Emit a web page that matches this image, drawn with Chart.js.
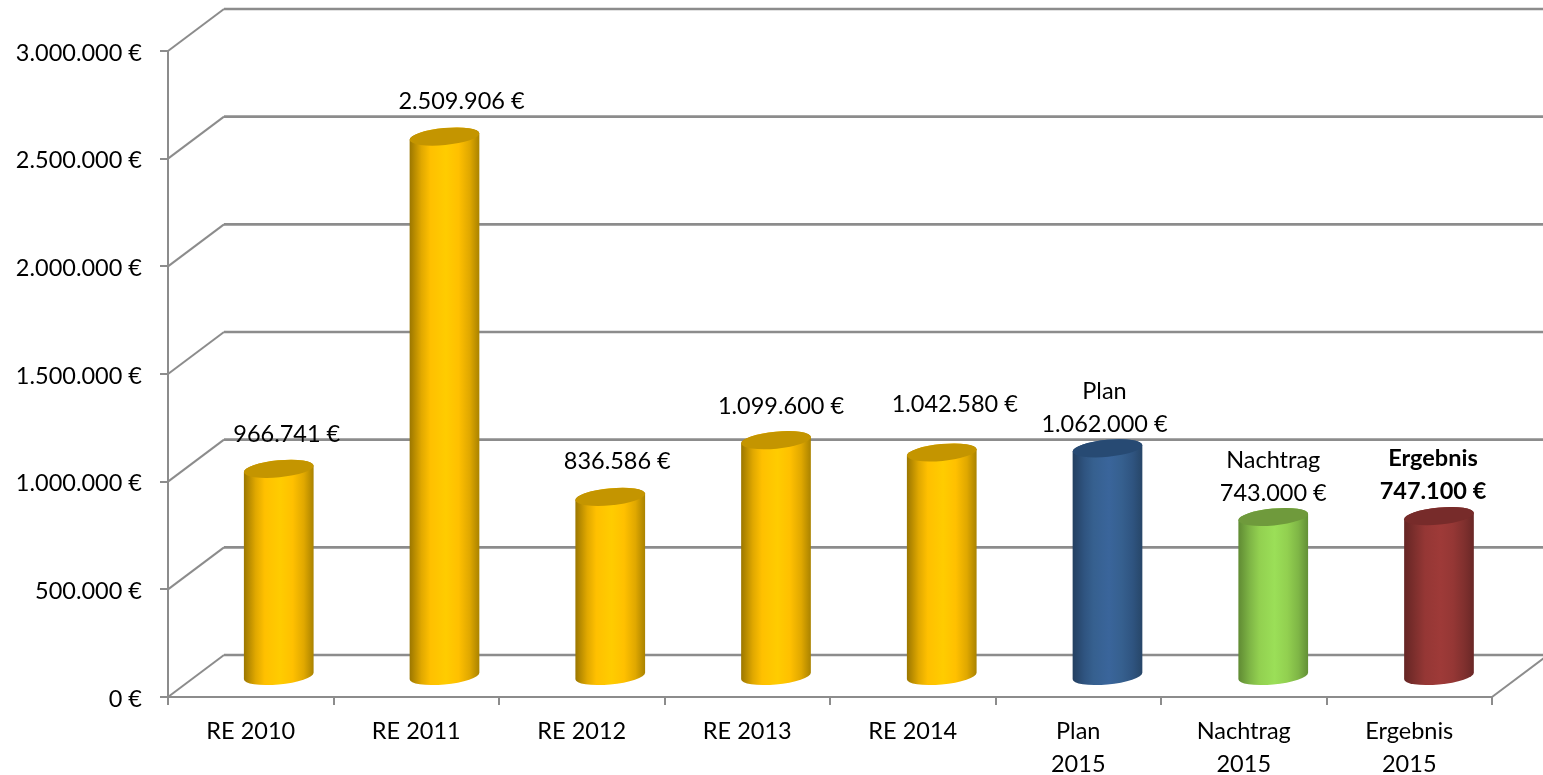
<!DOCTYPE html>
<html>
<head>
<meta charset="utf-8">
<title>Ergebnis 2015</title>
<script src="https://cdn.jsdelivr.net/npm/chart.js@4"></script>
<style>
  html, body { margin: 0; padding: 0; background: #fff; overflow: hidden; }
  canvas { display: block; }
</style>
</head>
<body>
<canvas id="resultChart" width="1543" height="775"></canvas>
<script>
const categories = ["RE 2010", "RE 2011", "RE 2012", "RE 2013", "RE 2014", ["Plan", "2015"], ["Nachtrag", "2015"], ["Ergebnis", "2015"]];
const values = [966741, 2509906, 836586, 1099600, 1042580, 1062000, 743000, 747100];
const barColors = ["#ffc000", "#ffc000", "#ffc000", "#ffc000", "#ffc000", "#376092", "#92d050", "#953735"];
const valueLabels = ["966.741 €", "2.509.906 €", "836.586 €", "1.099.600 €", "1.042.580 €", "1.062.000 €", "743.000 €", "747.100 €"];
const headLabels = ["", "", "", "", "", "Plan", "Nachtrag", "Ergebnis"];
const boldLabels = [false, false, false, false, false, false, false, true];

// the labels do not sit centred on the bars in the original
const labelShiftX = [8, 17, 7, 5, 13, -3, 0, -6];
const labelShiftY = [-34, -35, -35, -34, -48, -24, -24, -25];

const FONT = "Lato, 'Open Sans', sans-serif";
const FONT_SIZE = 23.5;
const LINE_HEIGHT = 33;

// 3D look: how far the back wall sits behind the axes, and where the bars stand
const DEPTH_X = 56;
const DEPTH_Y = 42;
const BAR_SHIFT_X = 28;
const BAR_SHIFT_Y = 20;
const CAP_MINOR = 8.5;
const CAP_TILT = -0.096;

const AXIS_COLOR = "#8c8c8c";

const shades = {
  "#ffc000": { edge: "#9a7600", side: "#e0a800", mid: "#ffc000", light: "#ffcc00", rim: "#a98200", cap: "#c49500" },
  "#376092": { edge: "#233f60", side: "#2f5480", mid: "#36608f", light: "#3a659b", rim: "#274668", cap: "#274a73" },
  "#92d050": { edge: "#5f8a33", side: "#7fb646", mid: "#92d050", light: "#9bdf58", rim: "#628f35", cap: "#6f9a3c" },
  "#953735": { edge: "#652524", side: "#80302e", mid: "#953735", light: "#9e3a38", rim: "#692726", cap: "#772b2a" }
};

// the bars spread out a little more than the category bands do
function barCenter(x) {
  return x + BAR_SHIFT_X + (x - 251) * 0.0015;
}

// Bar element that paints a tilted cylinder instead of a rectangle
class CylinderElement extends Chart.BarElement {
  static id = "cylinder";

  draw(ctx) {
    const shade = shades[this.options.backgroundColor];
    const x = barCenter(this.x);
    const top = this.y - BAR_SHIFT_Y;
    const base = this.base - BAR_SHIFT_Y;
    const major = this.width / 2;
    const t0 = Math.atan2(-CAP_MINOR * Math.sin(CAP_TILT), major * Math.cos(CAP_TILT));

    const gradient = ctx.createLinearGradient(x - major, 0, x + major, 0);
    gradient.addColorStop(0, shade.edge);
    gradient.addColorStop(0.17, shade.side);
    gradient.addColorStop(0.3, shade.mid);
    gradient.addColorStop(0.52, shade.light);
    gradient.addColorStop(0.7, shade.mid);
    gradient.addColorStop(0.86, shade.side);
    gradient.addColorStop(1, shade.rim);

    ctx.save();
    ctx.beginPath();
    ctx.ellipse(x, base, major, CAP_MINOR, CAP_TILT, t0, t0 + Math.PI);
    ctx.ellipse(x, top, major, CAP_MINOR, CAP_TILT, t0 + Math.PI, t0 + 2 * Math.PI);
    ctx.closePath();
    ctx.fillStyle = gradient;
    ctx.fill();

    ctx.beginPath();
    ctx.ellipse(x, top, major, CAP_MINOR, CAP_TILT, 0, 2 * Math.PI);
    ctx.fillStyle = shade.cap;
    ctx.fill();
    ctx.restore();
  }
}
Chart.register(CylinderElement);
Chart.defaults.datasets.bar.dataElementType = "cylinder";

// Back wall lines and the diagonals that connect them to the y axis
const wallPlugin = {
  id: "wall",
  beforeDatasetsDraw(chart) {
    const { ctx, scales: { x, y } } = chart;
    ctx.save();
    ctx.strokeStyle = AXIS_COLOR;
    y.ticks.forEach((tick) => {
      const py = y.getPixelForValue(tick.value);
      ctx.lineWidth = 2;
      ctx.beginPath();
      ctx.moveTo(x.left, py);
      ctx.lineTo(x.left + DEPTH_X, py - DEPTH_Y);
      ctx.stroke();
      ctx.lineWidth = 2.6;
      ctx.beginPath();
      ctx.moveTo(x.left + DEPTH_X, py - DEPTH_Y);
      ctx.lineTo(x.right + DEPTH_X, py - DEPTH_Y);
      ctx.stroke();
    });
    // right end of the floor
    const floor = y.getPixelForValue(0);
    ctx.lineWidth = 2;
    ctx.beginPath();
    ctx.moveTo(x.right, floor);
    ctx.lineTo(x.right + DEPTH_X, floor - DEPTH_Y);
    ctx.stroke();
    ctx.restore();
  }
};

const valueLabelPlugin = {
  id: "valueLabels",
  afterDatasetsDraw(chart) {
    const { ctx } = chart;
    const bars = chart.getDatasetMeta(0).data;
    ctx.save();
    ctx.fillStyle = "#000";
    ctx.textAlign = "center";
    ctx.textBaseline = "middle";
    bars.forEach((bar, i) => {
      const x = barCenter(bar.x) + labelShiftX[i];
      const y = bar.y - BAR_SHIFT_Y + labelShiftY[i];
      ctx.font = (boldLabels[i] ? "bold " : "") + FONT_SIZE + "px " + FONT;
      ctx.fillText(valueLabels[i], x, y);
      if (headLabels[i]) {
        ctx.fillText(headLabels[i], x, y - LINE_HEIGHT);
      }
    });
    ctx.restore();
  }
};

new Chart(document.getElementById("resultChart").getContext("2d"), {
  type: "bar",
  data: {
    labels: categories,
    datasets: [
      {
        data: values,
        backgroundColor: barColors,
        categoryPercentage: 1,
        barPercentage: 0.423,
        clip: false
      }
    ]
  },
  options: {
    responsive: false,
    animation: false,
    devicePixelRatio: 1,
    layout: { padding: { top: 51, right: 51, bottom: 0, left: 0 } },
    plugins: { legend: { display: false }, tooltip: { enabled: false } },
    scales: {
      x: {
        afterFit(scale) {
          scale.height = 78;
        },
        border: { color: AXIS_COLOR, width: 2 },
        grid: { drawOnChartArea: false, color: AXIS_COLOR, lineWidth: 2, tickLength: 8 },
        ticks: {
          color: "#000",
          padding: 10,
          maxRotation: 0,
          autoSkip: false,
          font: { family: FONT, size: FONT_SIZE, lineHeight: LINE_HEIGHT / FONT_SIZE }
        }
      },
      y: {
        min: 0,
        max: 3000000,
        afterFit(scale) {
          scale.width = 168;
          // y labels sit a bit under their tick mark in the original
          if (!scale.labelsNudged) {
            scale.labelsNudged = true;
            const computeItems = scale._computeLabelItems;
            scale._computeLabelItems = function (area) {
              const items = computeItems.call(this, area);
              items.forEach((item) => {
                item.textOffset += 2;
              });
              return items;
            };
          }
        },
        border: { color: AXIS_COLOR, width: 2 },
        grid: { drawOnChartArea: false, color: AXIS_COLOR, lineWidth: 2, tickLength: 8 },
        ticks: {
          stepSize: 500000,
          color: "#000",
          padding: 18,
          font: { family: FONT, size: FONT_SIZE },
          callback: (value) => value.toLocaleString("de-DE") + " €"
        }
      }
    }
  },
  plugins: [wallPlugin, valueLabelPlugin]
});
</script>
</body>
</html>
